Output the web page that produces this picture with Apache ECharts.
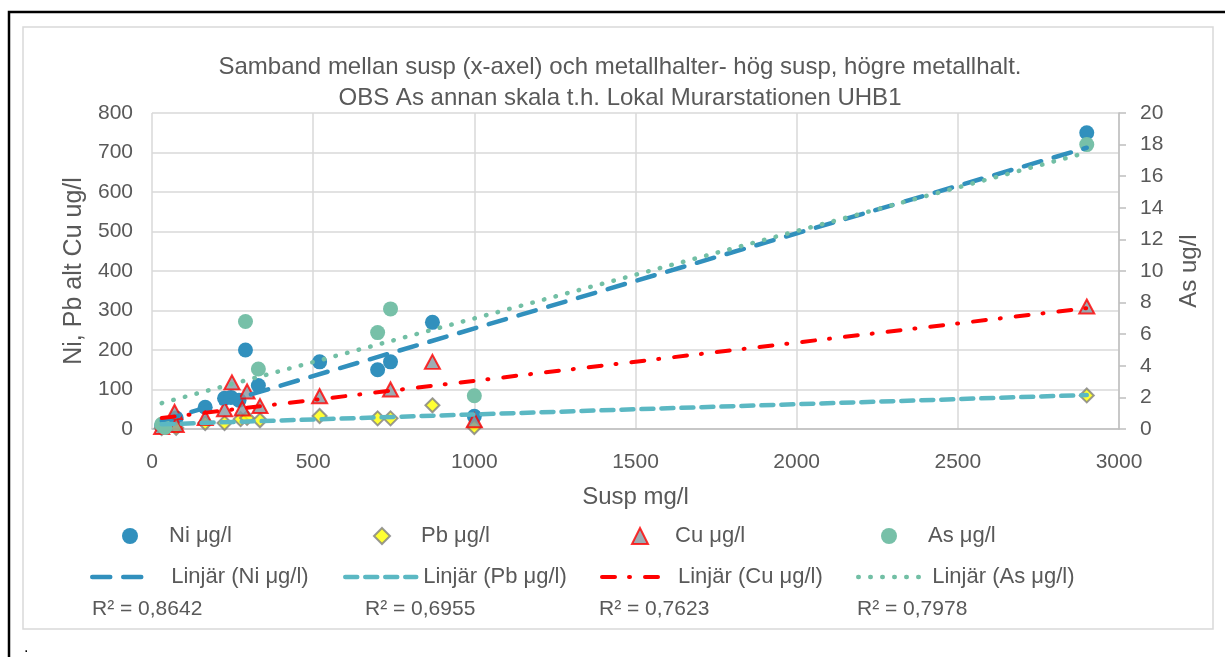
<!DOCTYPE html>
<html>
<head>
<meta charset="utf-8">
<script src="https://cdn.jsdelivr.net/npm/echarts@6/dist/echarts.min.js"></script>
<style>
  html, body { margin: 0; padding: 0; background: #fff; }
  #chart { width: 1225px; height: 657px; }
</style>
</head>
<body>
<div id="chart"></div>
<script>
// data (susp mg/l on x)
const niX = [30, 40, 75, 165, 225, 245, 270, 290, 330, 520, 700, 740, 870, 1000, 2900];
const niY = [8, 10, 28, 55, 78, 80, 73, 200, 110, 170, 150, 170, 270, 32, 750];

const pbX = [30, 75, 165, 225, 275, 295, 335, 520, 700, 740, 870, 1000, 2900];
const pbY = [2, 3, 15, 15, 25, 28, 22, 33, 27, 27, 60, 5, 85];

const cuX = [30, 70, 75, 165, 225, 248, 280, 295, 335, 520, 740, 870, 1000, 2900];
const cuY = [5, 43, 10, 28, 50, 118, 52, 95, 58, 83, 100, 170, 22, 310];

const asX = [30, 40, 290, 330, 700, 740, 1000, 2900];
const asY = [0.3, 0.1, 6.8, 3.8, 6.1, 7.6, 2.1, 18];

// trendline end points, [x, y]
const trendNi = [[30, 21], [2900, 712]];
const trendPb = [[30, 12], [2900, 86]];
const trendCu = [[30, 28], [2900, 306]];
const trendAs = [[30, 1.64], [2900, 17.5]];

const rSquared = ['R² = 0,8642', 'R² = 0,6955', 'R² = 0,7623', 'R² = 0,7978'];

const xTicks = { min: 0, max: 3000, step: 500 };
const leftTicks = { min: 0, max: 800, step: 100 };
const rightTicks = { min: 0, max: 20, step: 2 };

const pairs = (xs, ys) => xs.map((x, i) => [x, ys[i]]);

const font = 'Liberation Sans';
const grey = '#595959';

const myChart = echarts.init(document.getElementById('chart'));

const legendBox = (name, left, top, w, pad, line) => {
  const box = {
    data: [name],
    left: left,
    top: top,
    itemWidth: w,
    itemHeight: line ? 14 : 16,
    selectedMode: false,
    textStyle: { fontFamily: font, fontSize: 22, color: grey, padding: [0, 0, 0, pad] }
  };
  if (line) {
    // hide the marker, keep the dashed line
    box.itemStyle = { opacity: 0 };
    box.lineStyle = Object.assign({ cap: 'round' }, line);
  }
  return box;
};

const niLine = { color: '#3190BD', width: 4.5, type: [18, 13], cap: 'round' };
const pbLine = { color: '#5BB8C3', width: 4.5, type: [12, 8], cap: 'round' };
const cuLine = { color: '#FF0000', width: 4, type: [13, 14, 1, 15], cap: 'round' };
const asLine = { color: '#72BFA5', width: 4.5, type: [0.5, 11.5], cap: 'round' };

const option = {
  backgroundColor: '#fff',
  animation: false,
  title: {
    text: 'Samband mellan susp (x-axel) och metallhalter- hög susp, högre metallhalt.\nOBS As annan skala t.h. Lokal Murarstationen UHB1',
    left: 615,
    top: 47,
    textAlign: 'center',
    textStyle: { fontFamily: font, fontSize: 24, fontWeight: 'normal', color: grey, lineHeight: 31 }
  },
  grid: { left: 152, right: 106, top: 113, bottom: 228 },
  legend: [
    legendBox('Ni μg/l', 117, 520, 16, 26),
    legendBox('Pb μg/l', 368, 520, 16, 26),
    legendBox('Cu μg/l', 626, 520, 16, 22),
    legendBox('As μg/l', 876, 520, 16, 26),
    legendBox('Linjär (Ni μg/l)', 85, 561, 58, 16, niLine),
    legendBox('Linjär (Pb μg/l)', 338, 561, 71, 2, pbLine),
    legendBox('Linjär (Cu μg/l)', 595, 561, 58, 13, cuLine),
    legendBox('Linjär (As μg/l)', 851, 561, 67, 2, asLine)
  ],
  graphic: [
    { type: 'rect', shape: { x: 9, y: 12, width: 1300, height: 700 }, style: { fill: null, stroke: '#000', lineWidth: 2.5 }, silent: true },
    { type: 'rect', shape: { x: 23, y: 27, width: 1190, height: 602 }, style: { fill: null, stroke: '#D9D9D9', lineWidth: 1.5 }, silent: true },
    { type: 'text', left: 24, top: 640, style: { text: '.', fontSize: 16, fill: '#000', fontFamily: font } },
    { type: 'text', left: 92, top: 599, style: { text: rSquared[0], fontSize: 21, fill: grey, fontFamily: font } },
    { type: 'text', left: 365, top: 599, style: { text: rSquared[1], fontSize: 21, fill: grey, fontFamily: font } },
    { type: 'text', left: 599, top: 599, style: { text: rSquared[2], fontSize: 21, fill: grey, fontFamily: font } },
    { type: 'text', left: 857, top: 599, style: { text: rSquared[3], fontSize: 21, fill: grey, fontFamily: font } }
  ],
  xAxis: {
    type: 'value',
    min: xTicks.min, max: xTicks.max, interval: xTicks.step,
    name: 'Susp mg/l',
    nameLocation: 'middle',
    nameGap: 56,
    nameTextStyle: { fontFamily: font, fontSize: 24, color: grey },
    axisLine: { show: true, lineStyle: { color: '#BFBFBF', width: 1.5 } },
    axisTick: { show: false },
    axisLabel: { fontFamily: font, fontSize: 21, color: grey, margin: 23, formatter: v => String(v) },
    splitLine: { show: true, lineStyle: { color: '#D9D9D9', width: 1.5 } }
  },
  yAxis: [
    {
      type: 'value',
      min: leftTicks.min, max: leftTicks.max, interval: leftTicks.step,
      name: 'Ni, Pb alt Cu ug/l',
      nameLocation: 'middle',
      nameGap: 46,
      nameTextStyle: { fontFamily: font, fontSize: 25, color: grey },
      axisLine: { show: false },
      axisTick: { show: false },
      axisLabel: { fontFamily: font, fontSize: 21, color: grey, margin: 19, formatter: v => String(v) },
      splitLine: { show: true, lineStyle: { color: '#D9D9D9', width: 1.5 } }
    },
    {
      type: 'value',
      position: 'right',
      min: rightTicks.min, max: rightTicks.max, interval: rightTicks.step,
      name: 'As ug/l',
      nameLocation: 'middle',
      nameGap: 58,
      nameTextStyle: { fontFamily: font, fontSize: 24, color: grey },
      axisLine: { show: true, lineStyle: { color: '#BFBFBF', width: 1.5 } },
      axisTick: { show: true, length: 7, lineStyle: { color: '#BFBFBF', width: 1.5 } },
      axisLabel: { fontFamily: font, fontSize: 21, color: grey, margin: 21, formatter: v => String(v) },
      splitLine: { show: false }
    }
  ],
  series: [
    {
      name: 'Ni μg/l', type: 'scatter', symbol: 'circle', symbolSize: 15,
      itemStyle: { color: '#3190BD', opacity: 1 },
      data: pairs(niX, niY), z: 2
    },
    {
      name: 'Pb μg/l', type: 'scatter', symbol: 'diamond', symbolSize: 14,
      itemStyle: { color: '#FFFF00', borderColor: '#808080', borderWidth: 2 },
      data: pairs(pbX, pbY), z: 3
    },
    {
      name: 'Cu μg/l', type: 'scatter', symbol: 'triangle', symbolSize: [15, 14],
      itemStyle: { color: '#8497A0', borderColor: '#FF0000', borderWidth: 2 },
      data: pairs(cuX, cuY), z: 4
    },
    {
      name: 'As μg/l', type: 'scatter', symbol: 'circle', symbolSize: 15, yAxisIndex: 1,
      itemStyle: { color: '#77C0A8', opacity: 1 },
      data: pairs(asX, asY), z: 5
    },
    {
      name: 'Linjär (Ni μg/l)', type: 'line', showSymbol: false, symbol: 'none',
      lineStyle: niLine, itemStyle: { color: niLine.color },
      data: trendNi, z: 6
    },
    {
      name: 'Linjär (Pb μg/l)', type: 'line', showSymbol: false, symbol: 'none',
      lineStyle: pbLine, itemStyle: { color: pbLine.color },
      data: trendPb, z: 6
    },
    {
      name: 'Linjär (Cu μg/l)', type: 'line', showSymbol: false, symbol: 'none',
      lineStyle: cuLine, itemStyle: { color: cuLine.color },
      data: trendCu, z: 6
    },
    {
      name: 'Linjär (As μg/l)', type: 'line', showSymbol: false, symbol: 'none', yAxisIndex: 1,
      lineStyle: asLine, itemStyle: { color: asLine.color },
      data: trendAs, z: 6
    }
  ]
};

myChart.setOption(option);
</script>
</body>
</html>
